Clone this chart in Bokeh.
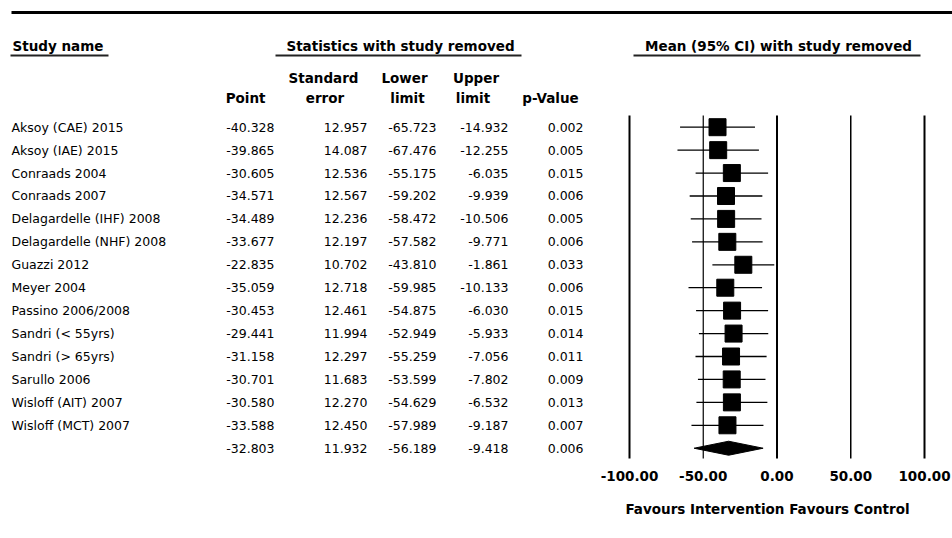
from bokeh.plotting import figure
from bokeh.models import Range1d, ColumnDataSource
from bokeh.core.properties import value
from bokeh.embed import file_html
from bokeh.resources import INLINE

# ---------------- data ----------------
studies = ["Aksoy (CAE) 2015", "Aksoy (IAE) 2015", "Conraads 2004", "Conraads 2007",
           "Delagardelle (IHF) 2008", "Delagardelle (NHF) 2008", "Guazzi 2012",
           "Meyer 2004", "Passino 2006/2008", "Sandri (< 55yrs)", "Sandri (> 65yrs)",
           "Sarullo 2006", "Wisloff (AIT) 2007", "Wisloff (MCT) 2007"]
point = [-40.328, -39.865, -30.605, -34.571, -34.489, -33.677, -22.835,
         -35.059, -30.453, -29.441, -31.158, -30.701, -30.580, -33.588]
std_err = [12.957, 14.087, 12.536, 12.567, 12.236, 12.197, 10.702,
           12.718, 12.461, 11.994, 12.297, 11.683, 12.270, 12.450]
lower = [-65.723, -67.476, -55.175, -59.202, -58.472, -57.582, -43.810,
         -59.985, -54.875, -52.949, -55.259, -53.599, -54.629, -57.989]
upper = [-14.932, -12.255, -6.035, -9.939, -10.506, -9.771, -1.861,
         -10.133, -6.030, -5.933, -7.056, -7.802, -6.532, -9.187]
p_value = [0.002, 0.005, 0.015, 0.006, 0.005, 0.006, 0.033,
           0.006, 0.015, 0.014, 0.011, 0.009, 0.013, 0.007]

summary_point = -32.803
summary_se = 11.932
summary_lower = -56.189
summary_upper = -9.418
summary_p = 0.006

axis_ticks = [-100, -50, 0, 50, 100]
tick_line_widths = [2, 1.2, 2, 1.5, 2]

# ---------------- layout helpers ----------------
W, H = 952, 538
ROW0 = 126.7     # pixel y of first row
ROWH = 22.93     # row pitch in px


def ry(px):
    """pixel y -> row units"""
    return (px - ROW0) / ROWH


FONT = value("DejaVu Sans")
FS = "12.5px"
HFS = "13.5px"

PX_PER_UNIT = 1.475
X_M100 = 629     # pixel x of -100 on the effect scale

p = figure(width=W, height=H,
           x_range=Range1d(0, W),
           y_range=Range1d(ry(H), ry(0)),
           output_backend="svg", toolbar_location=None,
           x_axis_location=None, y_axis_location=None,
           min_border=0, outline_line_color=None)
p.grid.visible = False
p.extra_x_ranges = {"mean": Range1d(-100 - X_M100 / PX_PER_UNIT,
                                    -100 + (W - X_M100) / PX_PER_UNIT)}

n = len(studies)
rows_all = list(range(n + 1))
tbl = ColumnDataSource(dict(
    row=rows_all,
    name=studies + [""],
    pt=[f"{v:.3f}" for v in point + [summary_point]],
    se=[f"{v:.3f}" for v in std_err + [summary_se]],
    lo=[f"{v:.3f}" for v in lower + [summary_lower]],
    up=[f"{v:.3f}" for v in upper + [summary_upper]],
    pv=[f"{v:.3f}" for v in p_value + [summary_p]],
))

common = dict(source=tbl, y="row", text_baseline="middle", text_font=FONT,
              text_font_size=FS, text_color="black")
p.text(x=11, text="name", text_align="left", **common)
p.text(x=274, text="pt", text_align="right", **common)
p.text(x=367, text="se", text_align="right", **common)
p.text(x=436, text="lo", text_align="right", **common)
p.text(x=508, text="up", text_align="right", **common)
p.text(x=583, text="pv", text_align="right", **common)

# ---------------- headers ----------------
hdr = dict(text_baseline="middle", text_font=FONT, text_font_size=HFS,
           text_font_style="bold", text_color="black")
p.text(x=[12], y=[ry(45)], text=["Study name"], text_align="left", **hdr)
p.text(x=[400], y=[ry(45)], text=["Statistics with study removed"], text_align="center", **hdr)
p.text(x=[778], y=[ry(45)], text=["Mean (95% CI) with study removed"], text_align="center", **hdr)
p.text(x=[265], y=[ry(97)], text=["Point"], text_align="right", **hdr)
p.text(x=[323, 404, 475.5], y=[ry(77)] * 3, text=["Standard", "Lower", "Upper"],
       text_align="center", **hdr)
p.text(x=[324.5, 407, 472.5, 550], y=[ry(97)] * 4, text=["error", "limit", "limit", "p-Value"],
       text_align="center", **hdr)

# top rule and underlines
p.segment(x0=[11], y0=[ry(12)], x1=[W], y1=[ry(12)], line_width=3, line_color="black")
p.segment(x0=[10, 275, 633], y0=[ry(55)] * 3, x1=[108, 521, 920], y1=[ry(55)] * 3,
          line_width=2, line_color="#222222")

# ---------------- forest plot ----------------
vsrc = ColumnDataSource(dict(x=axis_ticks, w=tick_line_widths,
                             y0=[ry(115)] * len(axis_ticks), y1=[ry(458)] * len(axis_ticks)))
p.segment(x0="x", y0="y0", x1="x", y1="y1", line_width="w", line_color="black",
          source=vsrc, x_range_name="mean")

fsrc = ColumnDataSource(dict(row=list(range(n)), point=point, lower=lower, upper=upper))
p.segment(x0="lower", y0="row", x1="upper", y1="row", line_width=1.3, line_color="black",
          source=fsrc, x_range_name="mean")
p.scatter(x="point", y="row", marker="square", size=17, fill_color="black",
          line_color="black", line_width=1, source=fsrc, x_range_name="mean")

h = 7 / ROWH
p.patch(x=[summary_lower, summary_point, summary_upper, summary_point],
        y=[n, n - h, n, n + h], fill_color="black", line_color="black",
        x_range_name="mean")

p.text(x=axis_ticks, y=[ry(475)] * len(axis_ticks), text=[f"{t:.2f}" for t in axis_ticks],
       text_align="center", x_range_name="mean", **hdr)
p.text(x=[767], y=[ry(508)], text=["Favours Intervention Favours Control"],
       text_align="center", **hdr)

open("out.html", "w").write(file_html(p, INLINE))
